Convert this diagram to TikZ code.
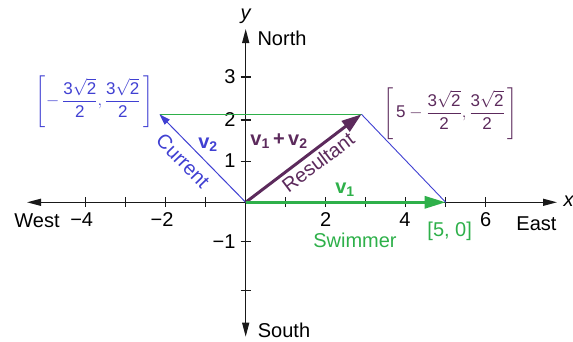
\documentclass[tikz,border=0pt]{standalone}
\usepackage{fix-cm}
\usepackage{amsmath}
\usepackage{fontspec}
\setmainfont{Liberation Sans}
\usetikzlibrary{arrows.meta}
\definecolor{cgreen}{RGB}{46,176,74}
\definecolor{cblue}{RGB}{64,64,210}
\definecolor{cpurple}{RGB}{92,42,92}
\begin{document}
\begin{tikzpicture}[x=1pt,y=-1pt,
  font=\fontsize{20}{24}\selectfont,
  axisline/.style={line width=1.3pt,draw=black!90},
  axtip/.style={-{Triangle[length=14pt,width=7pt]}},
  tickmark/.style={line width=1.2pt,draw=black!90},
  lbl/.style={inner sep=0pt,outer sep=0pt},
  fraclbl/.style={inner sep=0pt,font=\fontsize{17}{20}\selectfont}]
\useasboundingbox (0,0) rectangle (573,341);
% key points
\coordinate (O) at (245.7,202.3);
\coordinate (A) at (445.7,202.3);
\coordinate (R) at (361.5,114.3);
\coordinate (C) at (159.5,114.3);
\coordinate (XL) at (27,202.3);
\coordinate (XR) at (557,202.3);
\coordinate (YT) at (245.7,29);
\coordinate (YB) at (245.7,336.7);
% axes
\draw[axisline,axtip] (O) -- (XL);
\draw[axisline,axtip] (O) -- (XR);
\draw[axisline,axtip] (O) -- (YT);
\draw[axisline,axtip] (O) -- (YB);
% ticks
\foreach \k in {-4,-3,-2,-1,1,2,3,4,5,6}
  \draw[tickmark] ([shift={(40*\k,-5)}]O) -- ([shift={(40*\k,5)}]O);
\foreach \yy in {77,120,161.7,241.7,290.7}
  \draw[tickmark] (240.7,\yy) -- (250.7,\yy);
% tick labels
\node[lbl] (tm4) at (81.7,219.5) {−4};
\node[lbl] (tm2) at (162,219.5) {−2};
\node[lbl] (tp2) at (325.7,219.5) {2};
\node[lbl] (tp4) at (405,219.5) {4};
\node[lbl] (tp6) at (485.7,219.5) {6};
\node[lbl,anchor=east] (ty3) at (235.5,77) {3};
\node[lbl,anchor=east] (ty2) at (235.5,120) {2};
\node[lbl,anchor=east] (ty1) at (235.5,161) {1};
\node[lbl,anchor=east] (tym1) at (235.5,242) {−1};
% axis names
\node[lbl] (west) at (37,221) {West};
\node[lbl] (east) at (536.5,224) {East};
\node[lbl] (north) at (282,38) {North};
\node[lbl] (south) at (284,330) {South};
\node[lbl] (xlab) at (569,201) {\textit{x}};
\node[lbl] (ylab) at (246,16) {\textit{y}};
% parallelogram thin sides
\draw[cgreen,line width=1pt] (C) -- (R);
\draw[cblue,line width=0.9pt] (A) -- (R);
% vectors
\draw[cblue,line width=1pt,-{Triangle[length=11pt,width=7pt]}] (O) -- (C);
\draw[cpurple,line width=3pt,-{Triangle[length=20pt,width=13pt]}] (O) -- (R);
\draw[cgreen,line width=3pt,-{Triangle[length=21pt,width=12pt]}] (O) -- (A);
% vector labels
\node[lbl,text=cblue] (v2) at (208,145) {\textbf{v\textsubscript{2}}};
\node[lbl,text=cblue,rotate=-46] (cur) at (183,161) {Current};
\node[lbl,text=cpurple] (v12) at (279,141) {\textbf{v\textsubscript{1}\,+\,v\textsubscript{2}}};
\node[lbl,text=cpurple,rotate=37] (res) at (318,162) {Resultant};
\node[lbl,text=cgreen] (v1) at (345,190) {\textbf{v\textsubscript{1}}};
\node[lbl,text=cgreen] (swim) at (355,240) {Swimmer};
\node[lbl,text=cgreen] (pA) at (449.7,231.7) {[5, 0]};
\node[fraclbl,text=cpurple] (pR) at (450.5,113.7)
  {$\left[\,\text{5}-\dfrac{\text{3}\sqrt{\text{2}}}{\text{2}},\dfrac{\text{3}\sqrt{\text{2}}}{\text{2}}\,\right]$};
\node[fraclbl,text=cblue] (pC) at (94.7,101.7)
  {$\left[-\,\dfrac{\text{3}\sqrt{\text{2}}}{\text{2}},\dfrac{\text{3}\sqrt{\text{2}}}{\text{2}}\,\right]$};
\end{tikzpicture}
\end{document}
